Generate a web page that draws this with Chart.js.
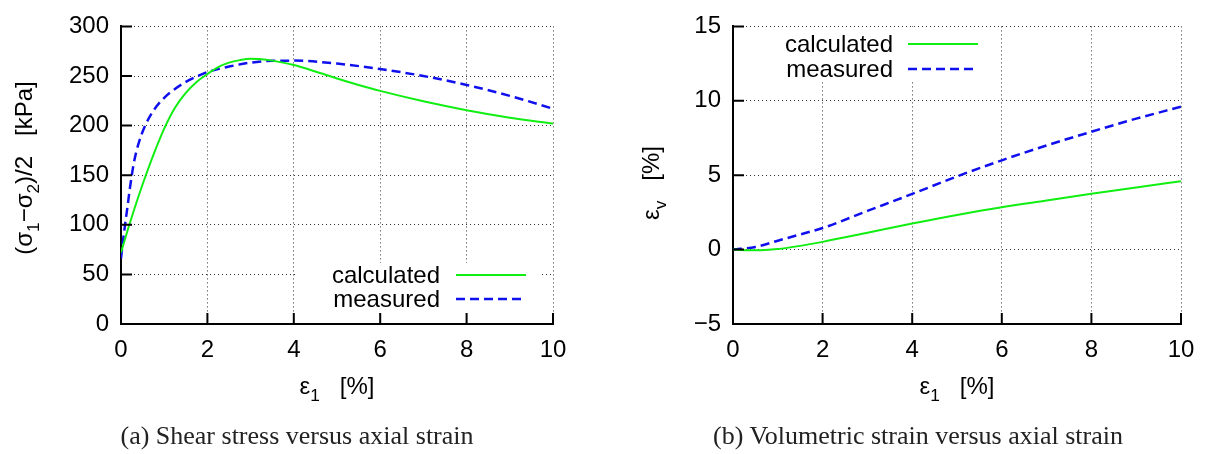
<!DOCTYPE html>
<html>
<head>
<meta charset="utf-8">
<script src="https://cdn.jsdelivr.net/npm/chart.js@4/dist/chart.umd.min.js"></script>
<style>
  body { margin: 0; background: #fff; width: 1221px; height: 454px; overflow: hidden; position: relative; }
  canvas { position: absolute; top: 0; }
  #shearChart { left: 0; }
  #volChart { left: 610px; }
  .caption {
    position: absolute; top: 421px; transform: translateX(-50%);
    font-family: "Liberation Serif", serif; font-size: 26px; color: #222; white-space: nowrap;
  }
</style>
</head>
<body>
<canvas id="shearChart" width="610" height="454"></canvas>
<canvas id="volChart" width="611" height="454"></canvas>
<div class="caption" style="left:297px">(a) Shear stress versus axial strain</div>
<div class="caption" style="left:918px">(b) Volumetric strain versus axial strain</div>
<script>
// --- shear stress (σ1−σ2)/2 [kPa] against axial strain ε1 [%] ---
const shearCalcStrain = [0, 0.2, 0.4, 0.6, 0.8, 1.0, 1.25, 1.5, 1.75, 2.0, 2.25, 2.5, 2.75, 3.0, 3.25, 3.5, 4.0, 4.5, 5.0, 5.5, 6.0, 7.0, 8.0, 9.0, 10.0];
const shearCalcStress = [72, 101, 128, 153, 176, 197, 218, 233, 244, 252, 259, 263.5, 266, 267.3, 267, 265.5, 261, 254.5, 247.5, 241, 235, 224.5, 215.5, 208, 202];
const shearMeasStrain = [0, 0.05, 0.1, 0.15, 0.2, 0.25, 0.3, 0.4, 0.56, 0.75, 1.0, 1.25, 1.5, 1.75, 2.0, 2.5, 3.0, 3.5, 4.0, 5.0, 6.0, 7.0, 8.0, 9.0, 10.0];
const shearMeasStress = [66, 85, 102, 118, 135, 150, 163, 181, 200, 215, 228, 237, 244, 249.5, 254, 259.5, 263.5, 265.3, 265.5, 262.5, 257, 250, 241, 230, 217];

// --- volumetric strain εv [%] against axial strain ε1 [%] ---
const volStrain = [0, 0.5, 1.0, 1.5, 2.0, 3.0, 4.0, 5.0, 6.0, 7.0, 8.0, 9.0, 10.0];
const volCalc = [0, -0.05, 0.04, 0.25, 0.52, 1.13, 1.75, 2.33, 2.85, 3.3, 3.75, 4.18, 4.6];
const volMeas = [0, 0.18, 0.6, 1.02, 1.45, 2.6, 3.74, 4.92, 6.0, 7.0, 7.92, 8.8, 9.6];

const seriesNames = ['calculated', 'measured'];
const xTicks = [0, 2, 4, 6, 8, 10];
const shearTicks = [0, 50, 100, 150, 200, 250, 300];
const volTicks = [-5, 0, 5, 10, 15];

const GREEN = '#11ee11';
const BLUE = '#1010ee';
const FONT = '"Liberation Sans", Arial, sans-serif';
const FS = 24;

const pts = (xs, ys) => xs.map((x, i) => ({ x, y: ys[i] }));

// text with subscripts: parts = [[text, isSub], ...]
function drawRich(ctx, parts, cx, cy, size, angle) {
  ctx.save();
  ctx.translate(cx, cy);
  ctx.rotate(angle || 0);
  ctx.fillStyle = '#000';
  ctx.textBaseline = 'alphabetic';
  let w = 0;
  const sz = p => p[1] ? size * 0.72 : size;
  parts.forEach(p => { ctx.font = sz(p) + 'px ' + FONT; w += ctx.measureText(p[0]).width; });
  let x = -w / 2;
  const base = size * 0.36;
  parts.forEach(p => {
    ctx.font = sz(p) + 'px ' + FONT;
    ctx.fillText(p[0], x, p[1] ? base + size * 0.3 : base);
    x += ctx.measureText(p[0]).width;
  });
  ctx.restore();
}

function makeDecor(cfg) {
  return {
    id: 'decor',
    beforeDatasetsDraw(chart) {
      // opaque key area
      const { ctx } = chart;
      const b = cfg.keyBox;
      ctx.save();
      ctx.fillStyle = '#fff';
      ctx.fillRect(b[0], b[1], b[2] - b[0], b[3] - b[1]);
      ctx.restore();
    },
    afterDraw(chart) {
      const { ctx, chartArea: a, scales } = chart;
      ctx.save();
      // inward tick marks
      ctx.strokeStyle = '#000';
      ctx.lineWidth = 2;
      ctx.beginPath();
      scales.x.ticks.forEach(t => {
        const px = scales.x.getPixelForValue(t.value);
        ctx.moveTo(px, a.bottom); ctx.lineTo(px, a.bottom - 11);
      });
      scales.y.ticks.forEach(t => {
        const py = scales.y.getPixelForValue(t.value);
        ctx.moveTo(a.left, py); ctx.lineTo(a.left + 11, py);
      });
      ctx.stroke();

      // key
      ctx.font = FS + 'px ' + FONT;
      ctx.textAlign = 'right';
      ctx.textBaseline = 'middle';
      ctx.fillStyle = '#000';
      const k = cfg.key;
      chart.data.datasets.forEach((ds, i) => {
        const y = k.y + i * k.dy;
        ctx.fillText(ds.label, k.textRight, y + 1);
        ctx.strokeStyle = ds.borderColor;
        ctx.lineWidth = ds.borderWidth;
        ctx.setLineDash(ds.borderDash || []);
        ctx.beginPath();
        ctx.moveTo(k.x0, y); ctx.lineTo(k.x1, y);
        ctx.stroke();
      });
      ctx.setLineDash([]);
      ctx.restore();

      // axis titles
      drawRich(ctx, cfg.xTitle, (a.left + a.right) / 2, cfg.xTitleY, FS, 0);
      drawRich(ctx, cfg.yTitle, cfg.yTitleX, cfg.yTitleY, FS, -Math.PI / 2);
    }
  };
}

function axis(min, max, step, extra) {
  return Object.assign({
    type: 'linear', min, max,
    ticks: {
      stepSize: step, color: '#000', padding: 12,
      font: { family: FONT, size: FS },
      callback: v => String(v).replace('-', '\u2212')
    },
    grid: { color: '#333', lineWidth: 1, drawTicks: false },
    border: { display: true, color: '#000', width: 2, dash: [1, 3] }
  }, extra);
}

function buildChart(id, datasets, yTicks, yStep, yWidth, padRight, cfg) {
  return new Chart(document.getElementById(id), {
    type: 'line',
    data: { datasets },
    options: {
      responsive: false,
      animation: false,
      devicePixelRatio: 1,
      layout: { padding: { top: 19, right: padRight, bottom: 0, left: 0 } },
      elements: { point: { radius: 0 }, line: { cubicInterpolationMode: 'monotone' } },
      plugins: { legend: { display: false }, tooltip: { enabled: false } },
      scales: {
        x: axis(xTicks[0], xTicks[xTicks.length - 1], 2, { afterFit: s => { s.height = 130; } }),
        y: axis(yTicks[0], yTicks[yTicks.length - 1], yStep, { afterFit: s => { s.width = yWidth; } })
      }
    },
    plugins: [makeDecor(cfg)]
  });
}

const lineStyle = (label, data, color, dashed) => ({
  label, data,
  borderColor: color,
  borderWidth: dashed ? 2.5 : 2,
  borderDash: dashed ? [9, 5] : [],
  fill: false
});

buildChart('shearChart', [
  lineStyle(seriesNames[0], pts(shearCalcStrain, shearCalcStress), GREEN, false),
  lineStyle(seriesNames[1], pts(shearMeasStrain, shearMeasStress), BLUE, true)
], shearTicks, 50, 121, 57, {
  keyBox: [296, 263, 540, 312],
  key: { textRight: 440, x0: 456, x1: 526, y: 275, dy: 24 },
  xTitle: [['\u03b5', 0], ['1', 1], ['   [%]', 0]],
  xTitleY: 385,
  yTitle: [['(\u03c3', 0], ['1', 1], ['\u2212\u03c3', 0], ['2', 1], [')/2   [kPa]', 0]],
  yTitleX: 23, yTitleY: 168
});

buildChart('volChart', [
  lineStyle(seriesNames[0], pts(volStrain, volCalc), GREEN, false),
  lineStyle(seriesNames[1], pts(volStrain, volMeas), BLUE, true)
], volTicks, 5, 123, 40, {
  keyBox: [160, 27, 380, 82],
  key: { textRight: 283, x0: 298, x1: 368, y: 44, dy: 25 },
  xTitle: [['\u03b5', 0], ['1', 1], ['   [%]', 0]],
  xTitleY: 385,
  yTitle: [['\u03b5', 0], ['v', 1], ['   [%]', 0]],
  yTitleX: 40, yTitleY: 183
});
</script>
</body>
</html>
